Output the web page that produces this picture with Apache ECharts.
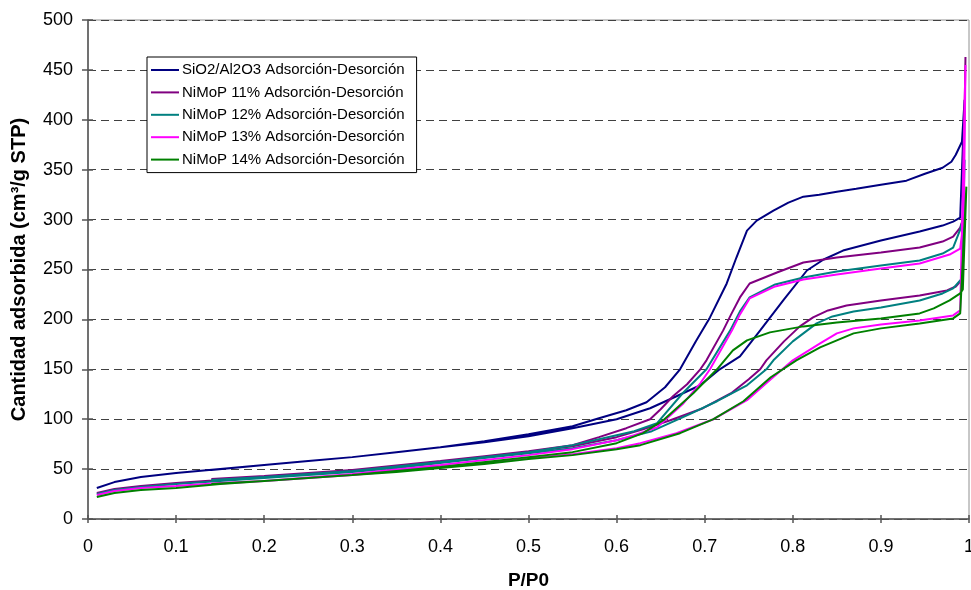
<!DOCTYPE html>
<html><head><meta charset="utf-8">
<script src="https://cdn.jsdelivr.net/npm/echarts@6/dist/echarts.min.js"></script>
<style>html,body{margin:0;padding:0;background:#fff}#c{width:971px;height:590px}</style>
</head><body><div id="c"></div>
<script>
// ---- data (adsorption branch, spike, then desorption branch back) ----
const seriesNames = [
  'SiO2/Al2O3 Adsorción-Desorción',
  'NiMoP 11% Adsorción-Desorción',
  'NiMoP 12% Adsorción-Desorción',
  'NiMoP 13% Adsorción-Desorción',
  'NiMoP 14% Adsorción-Desorción'
];
const seriesColors = ['#000080', '#800080', '#008080', '#FF00FF', '#008000'];

const xTickLabels = ['0','0.1','0.2','0.3','0.4','0.5','0.6','0.7','0.8','0.9','1'];
const yTickLabels = ['0','50','100','150','200','250','300','350','400','450','500'];

const sio2X = [0.01,0.03,0.06,0.1,0.15,0.2,0.25,0.3,0.35,0.4,0.45,0.5,0.55,0.6,0.638,0.668,0.695,0.717,0.74,0.763,0.79,0.816,0.835,0.857,0.9,0.944,0.97,0.982,0.99,0.995,
  0.992,0.985,0.98,0.97,0.95,0.929,0.9,0.872,0.85,0.83,0.812,0.795,0.778,0.759,0.748,0.736,0.725,0.706,0.69,0.672,0.655,0.634,0.611,0.58,0.55,0.5,0.45,0.4,0.3,0.2,0.14];
const sio2Y = [31,37,42,46,50,54,58,62,67,72,77,83,91,100,111,123,134,150,163,189,220,249,260,269,279,288,294,298,302,420,
  378,365,358,352,346,339,335,331,328,325,323,317,309,299,289,262,236,202,178,150,132,117,109,101,93,85,78,72,62,54,49];

const ni11X = [0.01,0.03,0.06,0.1,0.15,0.2,0.25,0.3,0.35,0.4,0.45,0.5,0.55,0.6,0.63,0.661,0.698,0.73,0.75,0.763,0.77,0.79,0.808,0.823,0.84,0.861,0.9,0.944,0.975,0.985,0.992,0.996,
  0.993,0.99,0.982,0.97,0.944,0.9,0.85,0.812,0.782,0.751,0.74,0.73,0.721,0.702,0.695,0.68,0.664,0.65,0.638,0.611,0.58,0.55,0.5,0.45,0.4,0.3,0.2,0.14];
const ni11Y = [26,30,33,36,39,42,45,48,52,57,62,67,73,82,90,99,111,126,140,150,159,178,193,202,209,214,219,224,229,233,240,463,
  300,292,283,278,272,267,262,257,247,236,222,205,189,159,150,135,123,110,100,91,82,74,68,63,58,49,43,40];

const ni12X = [0.01,0.03,0.06,0.1,0.15,0.2,0.25,0.3,0.35,0.4,0.45,0.5,0.55,0.6,0.64,0.683,0.714,0.748,0.77,0.778,0.8,0.827,0.845,0.869,0.9,0.944,0.97,0.982,0.992,0.995,
  0.993,0.99,0.982,0.97,0.944,0.9,0.85,0.812,0.78,0.751,0.74,0.729,0.702,0.675,0.646,0.62,0.6,0.55,0.5,0.4,0.3,0.2,0.14];
const ni12Y = [25,29,32,35,38,41,44,47,51,56,61,66,71,79,88,105,118,134,150,159,178,196,203,208,212,219,226,231,241,360,
  300,290,272,266,259,254,248,242,235,222,208,189,150,126,96,88,84,74,67,57,48,42,39];

const ni13X = [0.01,0.03,0.06,0.1,0.15,0.2,0.25,0.3,0.35,0.4,0.45,0.5,0.55,0.6,0.627,0.668,0.71,0.748,0.775,0.8,0.831,0.85,0.869,0.9,0.944,0.982,0.99,0.996,
  0.994,0.99,0.978,0.944,0.9,0.85,0.812,0.78,0.751,0.74,0.731,0.706,0.695,0.676,0.646,0.62,0.6,0.55,0.5,0.4,0.3,0.2,0.14];
const ni13Y = [24,28,31,33,36,38,41,44,48,52,56,61,65,71,76,86,100,119,140,159,176,186,191,195,199,204,209,455,
  300,271,265,256,251,245,240,233,221,205,189,150,136,116,92,84,79,70,64,54,45,38,35];

const ni14X = [0.01,0.03,0.06,0.1,0.15,0.2,0.25,0.3,0.35,0.4,0.45,0.5,0.55,0.6,0.627,0.672,0.71,0.744,0.775,0.804,0.831,0.869,0.9,0.944,0.982,0.99,0.997,
  0.993,0.99,0.978,0.96,0.944,0.9,0.85,0.812,0.774,0.748,0.732,0.714,0.687,0.653,0.63,0.6,0.55,0.5,0.4,0.3,0.2,0.14];
const ni14Y = [22,26,29,31,35,38,41,44,47,51,55,60,64,70,74,86,100,118,142,159,172,186,191,196,201,206,333,
  230,226,219,211,206,201,197,193,187,179,169,150,126,99,86,76,67,62,52,44,38,35];

const allX = [sio2X, ni11X, ni12X, ni13X, ni14X];
const allY = [sio2Y, ni11Y, ni12Y, ni13Y, ni14Y];

// ---- chart ----
const chart = echarts.init(document.getElementById('c'), null, {renderer: 'canvas'});
const FONT = 'Liberation Sans, Arial, sans-serif';

const series = seriesNames.map((name, i) => ({
  name: name,
  type: 'line',
  data: allX[i].map((x, k) => [x, allY[i][k]]),
  showSymbol: false,
  symbol: 'none',
  smooth: false,
  lineStyle: {color: seriesColors[i], width: 2},
  itemStyle: {color: seriesColors[i]},
  xAxisIndex: 0, yAxisIndex: 0,
  animation: false
}));

const axisCommonX = {type: 'value', min: 0, max: 1, interval: 0.1};
const axisCommonY = {type: 'value', min: 0, max: 500, interval: 50};

chart.setOption({
  animation: false,
  backgroundColor: '#ffffff',
  grid: {left: 88, right: 2, top: 20, bottom: 71, containLabel: false, outerBoundsMode: 'none',
    show: true, borderColor: '#909090', borderWidth: 1, backgroundColor: 'transparent'},
  legend: {
    orient: 'vertical', left: 147, top: 57,
    data: seriesNames,
    icon: 'rect', itemWidth: 28, itemHeight: 2,
    itemGap: 6.4,
    padding: [5, 12, 5, 4],
    borderColor: '#000', borderWidth: 1, backgroundColor: '#fff',
    textStyle: {fontFamily: FONT, fontSize: 15, color: '#000', lineHeight: 16, padding: [0, 0, 0, -2]}
  },
  xAxis: [
    Object.assign({}, axisCommonX, {
      position: 'bottom',
      name: 'P/P0', nameLocation: 'middle', nameGap: 52,
      nameTextStyle: {fontFamily: FONT, fontSize: 19, fontWeight: 'bold', color: '#000'},
      axisLine: {show: true, lineStyle: {color: '#555', width: 1.5}},
      axisTick: {show: true, length: 4, lineStyle: {color: '#555', width: 1.5}},
      axisLabel: {fontFamily: FONT, fontSize: 18, color: '#000', margin: 19,
        formatter: (v) => xTickLabels[Math.round(v * 10)]},
      splitLine: {show: false}
    }),
    Object.assign({}, axisCommonX, {
      position: 'bottom',
      axisLine: {show: false},
      axisTick: {show: true, inside: true, length: 4, lineStyle: {color: '#555', width: 1.5}},
      axisLabel: {show: false},
      splitLine: {show: false}
    })
  ],
  yAxis: [
    Object.assign({}, axisCommonY, {
      position: 'left',
      name: 'Cantidad adsorbida (cm³/g STP)', nameLocation: 'middle', nameGap: 59,
      nameTextStyle: {fontFamily: FONT, fontSize: 20, fontWeight: 'bold', color: '#000', padding: [0, 0, 0, 0]},
      axisLine: {show: true, lineStyle: {color: '#555', width: 1.5}},
      axisTick: {show: true, length: 6, lineStyle: {color: '#555', width: 1.5}},
      axisLabel: {fontFamily: FONT, fontSize: 18, color: '#000', margin: 15,
        formatter: (v) => yTickLabels[Math.round(v / 50)]},
      splitLine: {show: true, lineStyle: {color: '#404040', width: 1, type: [8, 5]}}
    }),
    Object.assign({}, axisCommonY, {
      position: 'left',
      axisLine: {show: false},
      axisTick: {show: true, inside: true, length: 5, lineStyle: {color: '#555', width: 1.5}},
      axisLabel: {show: false},
      splitLine: {show: false}
    })
  ],
  series: series
});
</script>
</body></html>
